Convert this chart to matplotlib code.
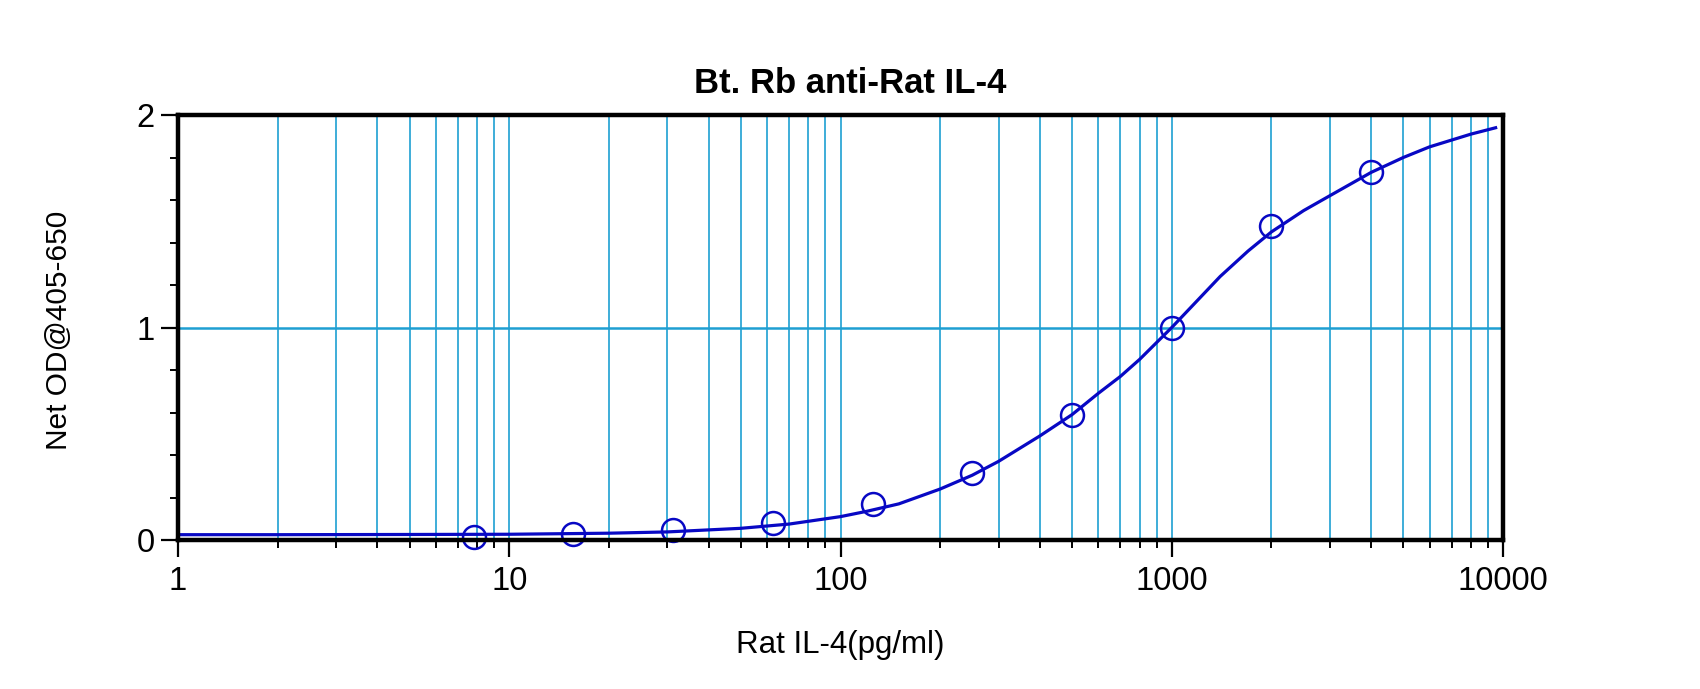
import matplotlib
matplotlib.use("Agg")
import matplotlib.pyplot as plt
from matplotlib.ticker import FixedLocator, NullFormatter

plt.rcParams['font.family'] = ['Liberation Sans', 'DejaVu Sans']

# Standard points
conc = [7.8125, 15.625, 31.25, 62.5, 125, 250, 500, 1000, 2000, 4000]
od = [0.015, 0.03, 0.045, 0.078, 0.17, 0.315, 0.59, 1.00, 1.48, 1.73]

# Fitted curve
curve_x = [1, 2, 5, 10, 20, 30, 50, 70, 100, 120, 150, 200, 250, 300, 400, 500,
           600, 700, 800, 1000, 1200, 1400, 1700, 2000, 2500, 3000, 4000, 5000,
           6000, 8000, 9500]
curve_y = [0.025, 0.025, 0.026, 0.027, 0.032, 0.038, 0.055, 0.075, 0.11, 0.135,
           0.17, 0.24, 0.305, 0.37, 0.49, 0.59, 0.69, 0.77, 0.85, 1.00, 1.13,
           1.24, 1.36, 1.45, 1.55, 1.62, 1.73, 1.80, 1.85, 1.91, 1.94]

x_major = [1, 10, 100, 1000, 10000]
x_major_labels = ["1", "10", "100", "1000", "10000"]
x_minor = [m * d for d in [1, 10, 100, 1000] for m in range(2, 10)]
y_major = [0, 1, 2]
y_major_labels = ["0", "1", "2"]
y_minor = [0.2, 0.4, 0.6, 0.8, 1.2, 1.4, 1.6, 1.8]

title = "Bt. Rb anti-Rat IL-4"
xlabel = "Rat IL-4(pg/ml)"
ylabel = "Net OD@405-650"

grid_color = "#1e9fd2"
line_color = "#0808c4"

W, H = 1700, 689
fig = plt.figure(figsize=(W / 100, H / 100), dpi=100)
left, right, top, bottom = 178, 1503, 115, 540
ax = fig.add_axes([left / W, 1 - bottom / H, (right - left) / W, (bottom - top) / H])

ax.set_xscale('log')
ax.set_xlim(1, 10000)
ax.set_ylim(0, 2)

ax.xaxis.set_major_locator(FixedLocator(x_major))
ax.set_xticklabels(x_major_labels)
ax.xaxis.set_minor_locator(FixedLocator(x_minor))
ax.xaxis.set_minor_formatter(NullFormatter())
ax.yaxis.set_major_locator(FixedLocator(y_major))
ax.set_yticklabels(y_major_labels)
ax.yaxis.set_minor_locator(FixedLocator(y_minor))

ax.grid(True, which='both', axis='x', color=grid_color, lw=1.2, zorder=0)
ax.grid(True, which='major', axis='y', color=grid_color, lw=1.8, zorder=0)
ax.set_axisbelow(True)

ax.plot(curve_x, curve_y, color=line_color, lw=2.3, zorder=3, clip_on=False)
ax.plot(conc, od, linestyle='none', marker='o', markersize=16.5,
        markerfacecolor='none', markeredgecolor=line_color, markeredgewidth=1.8,
        zorder=4, clip_on=False)

for s in ax.spines.values():
    s.set_linewidth(3.2)
    s.set_color('black')
    s.set_zorder(5)

ax.tick_params(axis='both', which='major', direction='out', length=12, width=1.6,
               labelsize=23.5, color='black')
ax.tick_params(axis='both', which='minor', direction='out', length=6, width=1.4,
               color='black')
ax.tick_params(axis='x', which='major', pad=7)
ax.tick_params(axis='y', which='major', pad=5)

fig.text(850 / W, 1 - 93 / H, title, ha='center', va='baseline',
         fontsize=25, fontweight='bold')
fig.text(840 / W, 1 - 653 / H, xlabel, ha='center', va='baseline', fontsize=22.5)
fig.text(59 / W, 1 - 330 / H, ylabel, ha='center', va='center', rotation=90,
         fontsize=21.5)

fig.savefig("out.png", dpi=100)
